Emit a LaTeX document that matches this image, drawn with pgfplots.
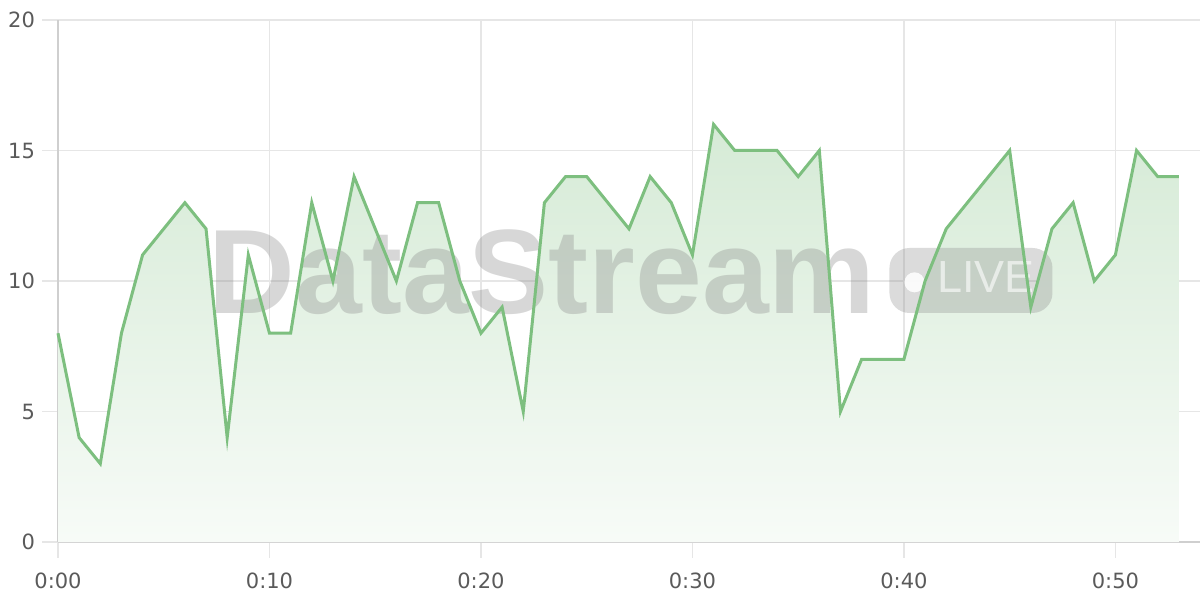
\documentclass[border=0pt]{standalone}
\usepackage{fontspec}
\setmainfont{Liberation Sans}
\newfontfamily\tickfont{DejaVu Sans}
\usepackage{pgfplots}
\pgfplotsset{compat=1.18}
\definecolor{linegreen}{HTML}{7DBF7F}
\definecolor{gridgray}{HTML}{E6E6E6}
\definecolor{axisgray}{HTML}{CFCFCF}
\definecolor{labelgray}{HTML}{5A5A5A}

\pgfplotstableread{
t v
0 8
1 4
2 3
3 8
4 11
5 12
6 13
7 12
8 4
9 11
10 8
11 8
12 13
13 10
14 14
15 12
16 10
17 13
18 13
19 10
20 8
21 9
22 5
23 13
24 14
25 14
26 13
27 12
28 14
29 13
30 11
31 16
32 15
33 15
34 15
35 14
36 15
37 5
38 7
39 7
40 7
41 10
42 12
43 13
44 14
45 15
46 9
47 12
48 13
49 10
50 11
51 15
52 14
53 14
}\series

\begin{document}
\begin{tikzpicture}
  \begin{axis}[
    scale only axis,
    width=571pt, height=261pt,
    xmin=0, xmax=54, ymin=0, ymax=20,
    axis x line*=bottom, axis y line*=left,
    axis line style={axisgray, line width=0.8pt},
    xtick={0,10,...,50},
    xticklabels={0:00,0:10,0:20,0:30,0:40,0:50},
    ytick={0,5,...,20},
    tick align=outside,
    major tick length=8pt,
    tick style={gridgray, line width=0.6pt},
    grid=major,
    major grid style={gridgray, line width=0.6pt},
    ticklabel style={font=\tickfont\fontsize{10.5}{12}\selectfont, text=labelgray},
    xticklabel style={yshift=-4pt},
    /pgf/number format/assume math mode=true,
    clip=false,
  ]
    % gradient area under the line
    \addplot[draw=none, top color=linegreen!32!white, bottom color=linegreen!6!white]
      table[x=t, y=v] {\series} \closedcycle;

    % watermark
    \node[anchor=base, text=black!47, opacity=0.33,
      font=\fontsize{60}{62}\selectfont\bfseries]
      at (axis cs:22.9,8.77) {DataStream};
    \node[fill=black!47, opacity=0.3, rounded corners=10pt,
      minimum width=81.5pt, minimum height=32.5pt, inner sep=0pt]
      at (axis cs:43.17,10.02) {};
    \fill[white, opacity=0.9] (axis cs:40.5,9.95) circle (5pt);
    \node[anchor=base west, text=white, opacity=0.6, inner sep=0pt,
      font=\fontsize{22.5}{24}\selectfont]
      at (axis cs:41.55,9.55) {LIVE};

    \addplot[linegreen, line width=1.5pt, no markers]
      table[x=t, y=v] {\series};
  \end{axis}
  \pgfresetboundingbox
  \path (current axis.south west) ++(-29pt,-29pt) coordinate (bl);
  \path (current axis.north east) ++(0pt,10pt) coordinate (tr);
  \path (bl) rectangle (tr);
\end{tikzpicture}
\end{document}
